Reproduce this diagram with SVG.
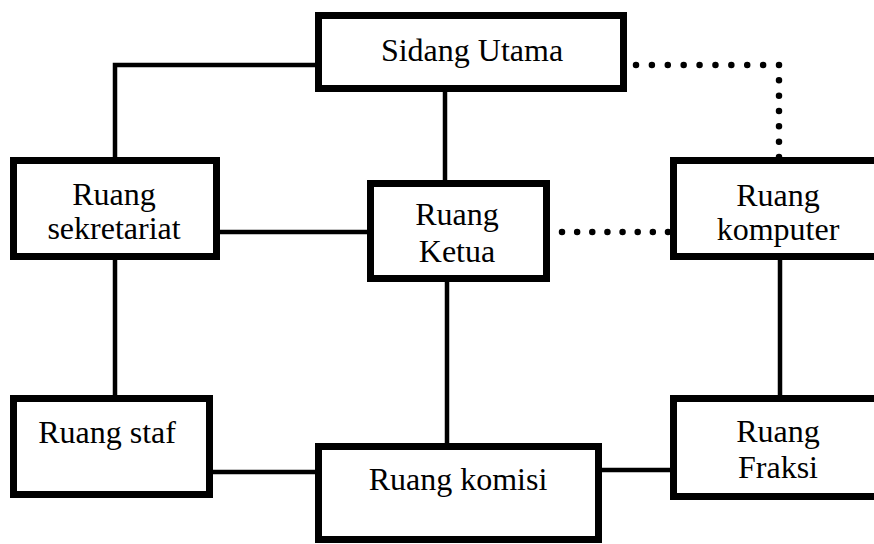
<svg xmlns="http://www.w3.org/2000/svg" width="874" height="544" viewBox="0 0 874 544">
<style>
.box{fill:#fff;stroke:#000;stroke-width:7}
.t{font-family:"Liberation Serif","Times New Roman",serif;font-size:32px;fill:#000;text-anchor:middle}
.c{fill:none;stroke:#000;stroke-width:4.5}
.d{fill:none;stroke:#000;stroke-width:6.5;stroke-linecap:round}
</style>
<rect width="874" height="544" fill="#fff"/>
<g id="connectors">
<polyline class="c" points="115,157 115,65 315,65"/>
<line class="c" x1="445" y1="92" x2="445" y2="180"/>
<line class="c" x1="220" y1="232" x2="367" y2="232"/>
<line class="c" x1="115" y1="260" x2="115" y2="395"/>
<line class="c" x1="447" y1="282" x2="447" y2="443"/>
<line class="c" x1="213" y1="472" x2="315" y2="472"/>
<line class="c" x1="602" y1="470" x2="670" y2="470"/>
<line class="c" x1="780" y1="260" x2="780" y2="395"/>
<path class="d" d="M636,65 H779" stroke-dasharray="0 15.89"/>
<path class="d" d="M779,65 V157" stroke-dasharray="0 15.33"/>
<path class="d" d="M562,232 H668" stroke-dasharray="0 15.14"/>
</g>
<g id="sidang-utama">
<rect class="box" x="318.5" y="15.5" width="305" height="73"/>
<text class="t" x="472" y="61">Sidang Utama</text>
</g>
<g id="ruang-sekretariat">
<rect class="box" x="13.5" y="160.5" width="203" height="96"/>
<text class="t" x="114" y="205">Ruang</text>
<text class="t" x="114" y="239">sekretariat</text>
</g>
<g id="ruang-ketua">
<rect class="box" x="370.5" y="183.5" width="176" height="95"/>
<text class="t" x="457" y="225">Ruang</text>
<text class="t" x="457" y="262">Ketua</text>
</g>
<g id="ruang-komputer">
<rect class="box" x="673.5" y="160.5" width="230" height="96"/>
<text class="t" x="778" y="206">Ruang</text>
<text class="t" x="778" y="240">komputer</text>
</g>
<g id="ruang-staf">
<rect class="box" x="13.5" y="398.5" width="196" height="96"/>
<text class="t" x="107" y="443">Ruang staf</text>
</g>
<g id="ruang-komisi">
<rect class="box" x="318.5" y="446.5" width="280" height="93"/>
<text class="t" x="458" y="490">Ruang komisi</text>
</g>
<g id="ruang-fraksi">
<rect class="box" x="673.5" y="398.5" width="230" height="98"/>
<text class="t" x="778" y="442">Ruang</text>
<text class="t" x="778" y="478">Fraksi</text>
</g>
</svg>
